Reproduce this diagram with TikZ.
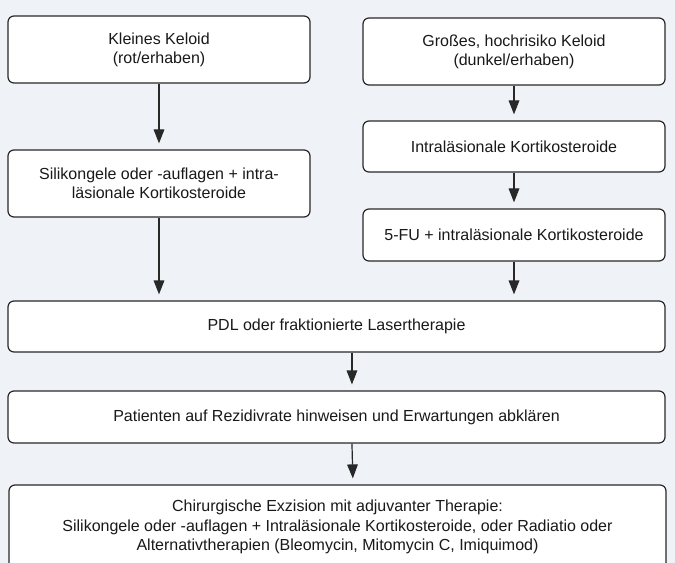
\documentclass[tikz,border=0pt]{standalone}
\usepackage{fontspec}
\setmainfont{Liberation Sans}
\usetikzlibrary{arrows.meta}
\definecolor{bgcol}{RGB}{239,242,247}
\definecolor{edgecol}{RGB}{40,40,40}

\begin{document}
\begin{tikzpicture}[x=0.75pt,y=-0.75pt,
	box/.style={draw=edgecol,line width=0.9pt,fill=white,rounded corners=4.5pt,
		align=center,inner sep=2pt,text=black!90,
		font=\fontsize{12}{14.4}\selectfont},
	arr/.style={draw=edgecol,line width=0.9pt,-{Triangle[length=10.5pt,width=8pt]},
		shorten >=4.5pt}]
	%Background
	\fill [bgcol] (0,0) rectangle (675,563);
	\useasboundingbox (0,0) rectangle (675,563);

	%Left branch
	\node [box,minimum width=226.5pt,minimum height=50.25pt] (small) at (159,49.5)
	{Kleines Keloid\\(rot/erhaben)};
	\node [box,minimum width=226.5pt,minimum height=50.25pt] (silicone) at (159,183.5)
	{Silikongele oder -auflagen + intra-\\läsionale Kortikosteroide};

	%Right branch
	\node [box,minimum width=226.5pt,minimum height=50.25pt] (large) at (514,51.5)
	{Großes, hochrisiko Keloid\\(dunkel/erhaben)};
	\node [box,minimum width=226.5pt,minimum height=38.25pt] (steroid) at (514,146.5)
	{Intraläsionale Kortikosteroide};
	\node [box,minimum width=226.5pt,minimum height=39pt] (fu) at (514,235)
	{5-FU + intraläsionale Kortikosteroide};

	%Common steps
	\node [box,minimum width=492.75pt,minimum height=38.25pt] (laser) at (336.5,326.5)
	{PDL oder fraktionierte Lasertherapie};
	\node [box,minimum width=492.75pt,minimum height=39pt] (inform) at (336.5,417)
	{Patienten auf Rezidivrate hinweisen und Erwartungen abklären};
	\node [box,minimum width=492.75pt,minimum height=63pt] (surgery) at (337.5,527)
	{Chirurgische Exzision mit adjuvanter Therapie:\\
	Silikongele oder -auflagen + Intraläsionale Kortikosteroide, oder Radiatio oder\\
	Alternativtherapien (Bleomycin, Mitomycin C, Imiquimod)};

	%Connections
	\draw [arr] (small) -- (silicone);
	\draw [arr] (large) -- (steroid);
	\draw [arr] (steroid) -- (fu);
	\draw [arr] (silicone.south) -- (silicone.south |- laser.north);
	\draw [arr] (fu.south) -- (fu.south |- laser.north);
	\draw [arr] ([xshift=11.6pt]laser.south) -- ([xshift=11.6pt]inform.north);
	\draw [arr] ([xshift=11.6pt]inform.south) -- ([xshift=11.6pt]surgery.north);
\end{tikzpicture}
\end{document}
